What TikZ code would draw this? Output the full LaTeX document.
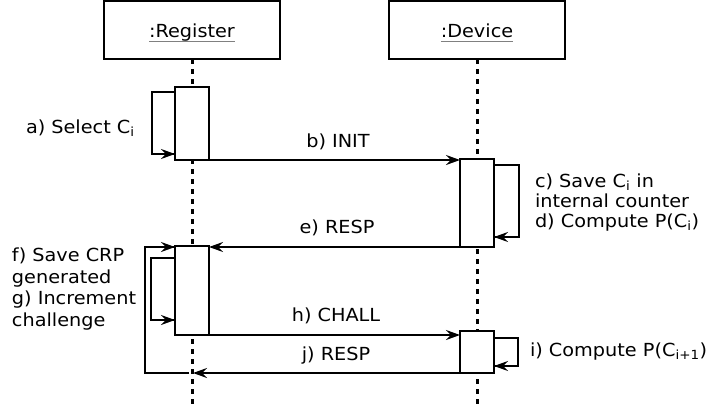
\documentclass[tikz,border=0pt]{standalone}
\usepackage{fontspec}
\setmainfont{DejaVu Sans}[FakeStretch=1.07]
\usetikzlibrary{arrows.meta}
\begin{document}
\begin{tikzpicture}[x=1pt,y=-1pt,
  every node/.style={inner sep=0pt, outer sep=0pt, font=\fontsize{18}{20}\selectfont},
  actor/.style={draw, line width=1.3pt, minimum width=176pt, minimum height=58pt},
  act/.style={draw, line width=2.4pt, fill=white, minimum width=34pt},
  lifeline/.style={line width=3pt, dash pattern=on 5pt off 5pt},
  msg/.style={line width=1.8pt, -{Stealth[length=14pt,width=10pt,inset=5pt]}},
  loopl/.style={line width=1.8pt},
  lbl/.style={anchor=base},
  blk/.style={align=left, anchor=base west}
]
\useasboundingbox (0,0) rectangle (711,407);
% actors
\node[actor] (reg) at (192,30) {};
\node[actor] (dev) at (477,30) {};
\node[lbl] (regt) at (192,37) {:Register};
\node[lbl] (devt) at (477,37) {:Device};
\draw[gray, line width=0.8pt] ([yshift=-4pt]regt.base west) -- ([yshift=-4pt]regt.base east);
\draw[gray, line width=0.8pt] ([yshift=-4pt]devt.base west) -- ([yshift=-4pt]devt.base east);
% lifelines
\coordinate (regend) at (192,407);
\coordinate (devend) at (477,407);
\draw[lifeline] (reg.south) -- (regend);
\draw[lifeline] (dev.south) -- (devend);
% activations
\node[act, minimum height=73pt, anchor=north] (a1) at (192,87) {};
\node[act, minimum height=88pt, anchor=north] (d1) at (477,159) {};
\node[act, minimum height=89pt, anchor=north] (a2) at (192,246) {};
\node[act, minimum height=42pt, anchor=north] (d2) at (477,331) {};
% self loops
\draw[loopl] ([yshift=-5pt]a1.north west) -- ++(-23,0) |- ([yshift=6pt]a1.south west) coordinate (a1in);
\draw[msg] ([xshift=-16pt]a1in) -- (a1in);
\draw[loopl] ([yshift=-6pt]d1.north east) -- ++(25,0) |- ([yshift=10pt]d1.south east) coordinate (d1in);
\draw[msg] ([xshift=16pt]d1in) -- (d1in);
\draw[loopl] ([yshift=-12pt]a2.north west) -- ++(-24,0) |- ([yshift=15pt]a2.south west) coordinate (a2in);
\draw[msg] ([xshift=-16pt]a2in) -- (a2in);
\draw[loopl] ([yshift=-7pt]d2.north east) -- ++(24,0) |- ([yshift=7pt]d2.south east) coordinate (d2in);
\draw[msg] ([xshift=16pt]d2in) -- (d2in);
% messages
\draw[msg] (a1.south east) -- (a1.south east -| d1.west);
\draw[msg] (d1.south west) -- (d1.south west -| a2.east);
\draw[msg] (a2.south east) -- (a2.south east -| d2.west);
\coordinate (jend) at (193,373);
\draw[msg] (d2.south west) -- (jend);
\draw[loopl] ([xshift=-4pt]jend) -- (145,373) |- ([yshift=-1pt]a2.north west) coordinate (oin);
\draw[msg] ([xshift=-16pt]oin) -- (oin);
% labels
\node[lbl] (lb) at (338,147) {b) INIT};
\node[lbl] (le) at (337,233) {e) RESP};
\node[lbl] (lh) at (336,321) {h) CHALL};
\node[lbl] (lj) at (336,360) {j) RESP};
\node[blk] (la) at (26,133) {a) Select C\textsubscript{i}};
\node[blk, font=\fontsize{18}{20}\selectfont] (lc) at (535,227) {c) Save C\textsubscript{i} in\\internal counter\\d) Compute P(C\textsubscript{i})};
\node[blk, font=\fontsize{18}{21.5}\selectfont] (lf) at (12,326) {f) Save CRP\\generated\\g) Increment\\challenge};
\node[blk] (li) at (530,356) {i) Compute P(C\textsubscript{i+1})};
\end{tikzpicture}
\end{document}
